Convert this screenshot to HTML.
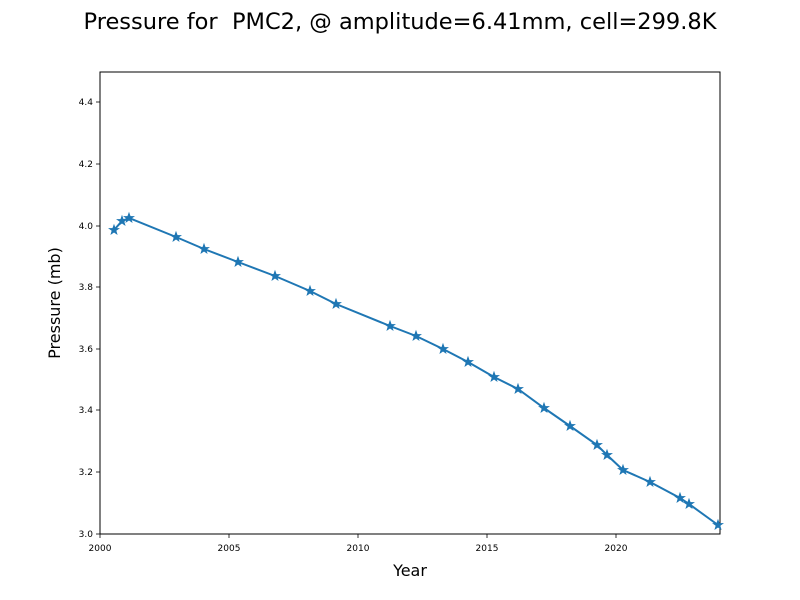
<!DOCTYPE html>
<html><head><meta charset="utf-8"><style>body{margin:0;background:#fff}svg{display:block}</style></head><body>
<svg width="800" height="600" xmlns="http://www.w3.org/2000/svg" font-family="DejaVu Sans, sans-serif">
<defs><path id="s" d="M0,-5 L1.2,-1.6 4.8,-1.5 1.9,0.6 2.9,4 0,2 -2.9,4 -1.9,0.6 -4.8,-1.5 -1.2,-1.6Z" fill="#1f77b4" stroke="#1f77b4" stroke-width="0.8"/></defs>
<text x="400" y="29" font-size="22.5" text-anchor="middle">Pressure for &#160;PMC2, @ amplitude=6.41mm, cell=299.8K</text>
<rect x="100" y="72" width="620" height="462" fill="none" stroke="#000" stroke-width="1"/>
<g stroke="#000" stroke-width="0.8">
<line x1="100" y1="534" x2="100" y2="538"/><line x1="229" y1="534" x2="229" y2="538"/><line x1="358" y1="534" x2="358" y2="538"/><line x1="487" y1="534" x2="487" y2="538"/><line x1="616" y1="534" x2="616" y2="538"/>
<line x1="96" y1="534" x2="100" y2="534"/><line x1="96" y1="472" x2="100" y2="472"/><line x1="96" y1="410" x2="100" y2="410"/><line x1="96" y1="349" x2="100" y2="349"/><line x1="96" y1="287" x2="100" y2="287"/><line x1="96" y1="226" x2="100" y2="226"/><line x1="96" y1="164" x2="100" y2="164"/><line x1="96" y1="102" x2="100" y2="102"/>
</g>
<g font-size="9" text-anchor="middle">
<text x="100" y="551">2000</text><text x="229" y="551">2005</text><text x="358" y="551">2010</text><text x="487" y="551">2015</text><text x="616" y="551">2020</text>
</g>
<g font-size="9" text-anchor="end">
<text x="93" y="537">3.0</text><text x="93" y="475">3.2</text><text x="93" y="413">3.4</text><text x="93" y="352">3.6</text><text x="93" y="290">3.8</text><text x="93" y="229">4.0</text><text x="93" y="167">4.2</text><text x="93" y="105">4.4</text>
</g>
<text x="410" y="576" font-size="16" text-anchor="middle">Year</text>
<text transform="translate(60,303) rotate(-90)" font-size="16" text-anchor="middle">Pressure (mb)</text>
<polyline fill="none" stroke="#1f77b4" stroke-width="2" points="114,230 122,221 129,218 176,237 204,249 238,262 275,276 310,291 336,304 390,326 416,336 443,349 468,362 494,377 518,389 544,408 570,426 597,445 607,455 623,470 650,482 680,498 689,504 718,525"/>
<g>
<use href="#s" x="114" y="230"/><use href="#s" x="122" y="221"/><use href="#s" x="129" y="218"/><use href="#s" x="176" y="237"/><use href="#s" x="204" y="249"/><use href="#s" x="238" y="262"/><use href="#s" x="275" y="276"/><use href="#s" x="310" y="291"/><use href="#s" x="336" y="304"/><use href="#s" x="390" y="326"/><use href="#s" x="416" y="336"/><use href="#s" x="443" y="349"/><use href="#s" x="468" y="362"/><use href="#s" x="494" y="377"/><use href="#s" x="518" y="389"/><use href="#s" x="544" y="408"/><use href="#s" x="570" y="426"/><use href="#s" x="597" y="445"/><use href="#s" x="607" y="455"/><use href="#s" x="623" y="470"/><use href="#s" x="650" y="482"/><use href="#s" x="680" y="498"/><use href="#s" x="689" y="504"/><use href="#s" x="718" y="525"/>
</g>
</svg>
</body></html>
